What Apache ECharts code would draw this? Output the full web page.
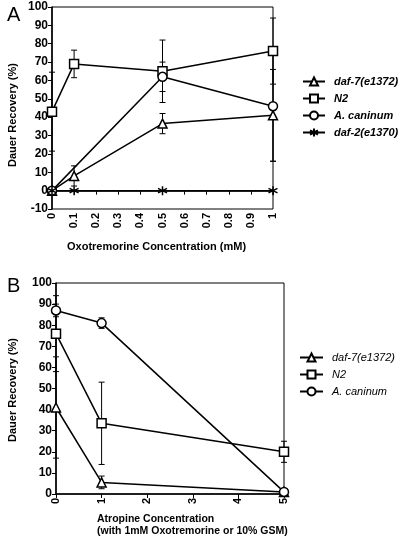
<!DOCTYPE html>
<html>
<head>
<meta charset="utf-8">
<script src="https://cdn.jsdelivr.net/npm/echarts@6/dist/echarts.min.js"></script>
<style>html,body{margin:0;padding:0;background:#fff}#c{width:400px;height:540px}</style>
</head>
<body>
<div id="c"></div>
<script>
// ---- Panel A data (Oxotremorine, mM) ----
const aDaf7X = [0, 0.1, 0.5, 1];
const aDaf7Y = [0, 8, 36.5, 41];
const aDaf7Err = [0, 5.5, 5.5, 25];
const aN2X = [0, 0.1, 0.5, 1];
const aN2Y = [43, 69, 65, 76];
const aN2Err = [21.5, 7.5, 17, 18];
const aCanX = [0, 0.5, 1];
const aCanY = [0, 62, 46];
const aCanErr = [0, 8, 30];
const aDaf2X = [0, 0.1, 0.5, 1];
const aDaf2Y = [0, 0, 0, 0];
// ---- Panel B data (Atropine) ----
const bDaf7X = [0, 1, 5];
const bDaf7Y = [41, 5.5, 1];
const bDaf7Err = [24, 3, 0];
const bN2X = [0, 1, 5];
const bN2Y = [76, 33.5, 20];
const bN2Err = [18, 19.5, 5];
const bCanX = [0, 1, 5];
const bCanY = [87, 81, 1];
const bCanErr = [3, 2.5, 0];

const NAME_DAF7 = 'daf-7(e1372)';
const NAME_N2 = 'N2';
const NAME_CAN = 'A. caninum';
const NAME_DAF2 = 'daf-2(e1370)';

const FONT = 'Liberation Sans, Arial, sans-serif';
const pairs = (xs, ys) => xs.map((x, i) => [x, ys[i]]);
const errs = (xs, ys, es) => xs.map((x, i) => [x, ys[i] - es[i], ys[i] + es[i]]).filter((d, i) => es[i] > 0);

const starPath = 'path://M5,0L5,10M0.7,2.5L9.3,7.5M0.7,7.5L9.3,2.5';

function lineSeries(name, data, symbol, gi, size) {
  return {
    type: 'line', name: name, data: data, xAxisIndex: gi, yAxisIndex: gi,
    symbol: symbol, symbolSize: size || 9, showAllSymbol: true,
    lineStyle: { color: '#000', width: 1.5 },
    itemStyle: { color: symbol === starPath ? '#000' : '#fff', borderColor: '#000', borderWidth: 1.5 },
    z: 3, animation: false
  };
}
function errSeries(data, gi) {
  return {
    type: 'custom', xAxisIndex: gi, yAxisIndex: gi, data: data, z: 2, animation: false,
    encode: { x: 0, y: [1, 2] },
    renderItem: function (params, api) {
      const x = api.value(0), lo = api.value(1), hi = api.value(2);
      const pLo = api.coord([x, lo]), pHi = api.coord([x, hi]);
      const w = 3;
      const st = { stroke: '#000', lineWidth: 1 };
      return { type: 'group', children: [
        { type: 'line', shape: { x1: pHi[0], y1: pHi[1], x2: pLo[0], y2: pLo[1] }, style: st },
        { type: 'line', shape: { x1: pHi[0] - w, y1: pHi[1], x2: pHi[0] + w, y2: pHi[1] }, style: st },
        { type: 'line', shape: { x1: pLo[0] - w, y1: pLo[1], x2: pLo[0] + w, y2: pLo[1] }, style: st }
      ]};
    }
  };
}

const axisCommon = {
  axisLine: { show: true, lineStyle: { color: '#000', width: 1.5 } },
  axisTick: { show: true, length: 4, lineStyle: { color: '#000', width: 1 } },
  splitLine: { show: false }
};

const chart = echarts.init(document.getElementById('c'), null, { renderer: 'canvas' });
chart.setOption({
  animation: false,
  grid: [
    { left: 52, top: 7, width: 221, height: 202, show: true, borderColor: '#000', borderWidth: 1, containLabel: false },
    { left: 56, top: 283, width: 228, height: 211, show: true, borderColor: '#000', borderWidth: 1, containLabel: false }
  ],
  xAxis: [
    Object.assign({}, axisCommon, { type: 'value', gridIndex: 0, min: 0, max: 1, interval: 0.1,
      axisLabel: { rotate: 90, margin: 4, fontSize: 11, fontWeight: 'bold', color: '#000', fontFamily: FONT,
        formatter: v => String(Math.round(v * 10) / 10) } }),
    Object.assign({}, axisCommon, { type: 'value', gridIndex: 1, min: 0, max: 5, interval: 1,
      axisLabel: { rotate: 90, margin: 4, fontSize: 11, fontWeight: 'bold', color: '#000', fontFamily: FONT } })
  ],
  yAxis: [
    Object.assign({}, axisCommon, { type: 'value', gridIndex: 0, min: -10, max: 100, interval: 10,
      axisLabel: { margin: 4, fontSize: 12, fontWeight: 'bold', color: '#000', fontFamily: FONT } }),
    Object.assign({}, axisCommon, { type: 'value', gridIndex: 1, min: 0, max: 100, interval: 10,
      axisLabel: { margin: 4, fontSize: 12, fontWeight: 'bold', color: '#000', fontFamily: FONT } })
  ],
  legend: [
    { orient: 'vertical', left: 302, top: 75, padding: 0, itemWidth: 22, itemHeight: 10, itemGap: 4,
      data: [NAME_DAF7, NAME_N2, NAME_CAN, NAME_DAF2], selectedMode: false,
      textStyle: { fontSize: 11, fontWeight: 'bold', fontStyle: 'italic', color: '#000', fontFamily: FONT, padding: [0, 0, 0, 4], lineHeight: 13 } },
    { orient: 'vertical', left: 299, top: 351, padding: 0, itemWidth: 23, itemHeight: 10, itemGap: 4,
      data: [NAME_DAF7, NAME_N2, NAME_CAN], selectedMode: false,
      textStyle: { fontSize: 11, fontStyle: 'italic', color: '#000', fontFamily: FONT, padding: [0, 0, 0, 4], lineHeight: 13 } }
  ],
  graphic: [
    { type: 'text', left: 7, top: 5, style: { text: 'A', font: '20px ' + FONT, fill: '#000' } },
    { type: 'text', left: 7, top: 276, style: { text: 'B', font: '20px ' + FONT, fill: '#000' } },
    { type: 'text', x: 13, y: 115, rotation: Math.PI / 2, style: { text: 'Dauer Recovery (%)', font: 'bold 11px ' + FONT, fill: '#000', align: 'center', verticalAlign: 'middle' } },
    { type: 'text', x: 13, y: 390, rotation: Math.PI / 2, style: { text: 'Dauer Recovery (%)', font: 'bold 11px ' + FONT, fill: '#000', align: 'center', verticalAlign: 'middle' } },
    { type: 'text', left: 67, top: 241, style: { text: 'Oxotremorine Concentration (mM)', font: 'bold 11px ' + FONT, fill: '#000' } },
    { type: 'text', left: 97, top: 513, style: { text: 'Atropine Concentration\n(with 1mM Oxotremorine or 10% GSM)', font: 'bold 10.5px ' + FONT, lineHeight: 12, fill: '#000' } }
  ],
  series: [
    errSeries(errs(aDaf7X, aDaf7Y, aDaf7Err), 0),
    errSeries(errs(aN2X, aN2Y, aN2Err), 0),
    errSeries(errs(aCanX, aCanY, aCanErr), 0),
    lineSeries(NAME_DAF7, pairs(aDaf7X, aDaf7Y), 'triangle', 0, 9),
    lineSeries(NAME_N2, pairs(aN2X, aN2Y), 'rect', 0, 9),
    lineSeries(NAME_CAN, pairs(aCanX, aCanY), 'circle', 0, 9),
    lineSeries(NAME_DAF2, pairs(aDaf2X, aDaf2Y), starPath, 0, 9),
    errSeries(errs(bDaf7X, bDaf7Y, bDaf7Err), 1),
    errSeries(errs(bN2X, bN2Y, bN2Err), 1),
    errSeries(errs(bCanX, bCanY, bCanErr), 1),
    lineSeries(NAME_DAF7, pairs(bDaf7X, bDaf7Y), 'triangle', 1, 9),
    lineSeries(NAME_N2, pairs(bN2X, bN2Y), 'rect', 1, 9),
    lineSeries(NAME_CAN, pairs(bCanX, bCanY), 'circle', 1, 9)
  ]
});
</script>
</body>
</html>
